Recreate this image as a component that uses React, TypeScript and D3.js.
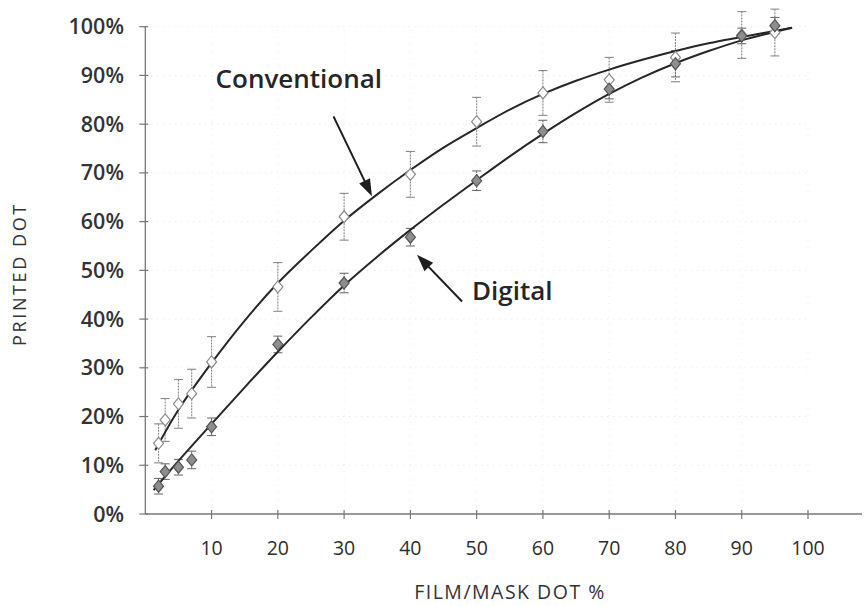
import React, { useMemo } from 'react';
import * as d3 from 'd3';

// film/mask dot % where samples were measured
const dotPercent = [2, 3, 5, 7, 10, 20, 30, 40, 50, 60, 70, 80, 90, 95];

// printed dot, conventional plates (open diamonds)
const conventionalValues = [14.5, 19.3, 22.6, 24.7, 31.2, 46.6, 61, 69.7, 80.5, 86.4, 89.1, 93.7, 98.3, 98.8];
const conventionalError = [4, 4.4, 5, 5, 5.2, 5, 4.8, 4.7, 5, 4.6, 4.6, 5, 4.8, 4.8];

// printed dot, digital plates (grey diamonds)
const digitalValues = [5.7, 8.7, 9.6, 11.1, 17.9, 34.8, 47.4, 56.8, 68.4, 78.5, 87.2, 92.4, 98.1, 100.2];
const digitalError = [1.6, 1.6, 1.6, 1.8, 1.8, 1.7, 2, 1.8, 2, 2.3, 2, 2.7, 1.6, 1.7];

// fitted curves
const conventionalFitX = [1.5, 5, 10, 15, 20, 25, 30, 35, 40, 45, 50, 55, 60, 65, 70, 75, 80, 85, 90, 97.6];
const conventionalFitY = [13.1, 21.4, 31, 39.7, 47.4, 54, 60.2, 65.6, 70.6, 75.2, 79.2, 83, 86.2, 88.9, 91.2, 93.2, 95, 96.6, 97.9, 99.8];
const digitalFitX = [1.25, 5, 10, 15, 20, 25, 30, 35, 40, 45, 50, 55, 60, 65, 70, 75, 80, 85, 90, 97.6];
const digitalFitY = [4.9, 10.9, 18.5, 26, 33.3, 40.3, 46.9, 52.8, 58.3, 63.5, 68.5, 73.4, 78, 82.3, 86.2, 89.6, 92.5, 95, 97.2, 99.8];

const xTicks = [10, 20, 30, 40, 50, 60, 70, 80, 90, 100];
const yTicks = [0, 10, 20, 30, 40, 50, 60, 70, 80, 90, 100];

const W = 867;
const H = 606;

const App: React.FC = () => {
  const x = useMemo(() => d3.scaleLinear().domain([0, 100]).range([145.3, 808]), []);
  const y = useMemo(() => d3.scaleLinear().domain([0, 100]).range([514, 26.7]), []);

  const line = d3.line<[number, number]>()
    .x(d => x(d[0]))
    .y(d => y(d[1]))
    .curve(d3.curveCatmullRom.alpha(0.5));

  const convPath = line(conventionalFitX.map((v, i) => [v, conventionalFitY[i]] as [number, number])) || '';
  const digPath = line(digitalFitX.map((v, i) => [v, digitalFitY[i]] as [number, number])) || '';

  const diamond = (cx: number, cy: number) =>
    `M${cx},${cy - 6}L${cx + 5},${cy}L${cx},${cy + 6}L${cx - 5},${cy}Z`;

  const errorBars = (vals: number[], errs: number[], key: string, color: string) =>
    dotPercent.map((d, i) => {
      const px = x(d);
      const top = y(vals[i] + errs[i]);
      const bot = y(vals[i] - errs[i]);
      return (
        <g key={key + i} stroke={color} strokeWidth={1.1}>
          <line x1={px} x2={px} y1={top} y2={bot} strokeDasharray="2,1" />
          <line x1={px - 4.5} x2={px + 4.5} y1={top} y2={top} />
          <line x1={px - 4.5} x2={px + 4.5} y1={bot} y2={bot} />
        </g>
      );
    });

  // arrow annotations in data units
  const convArrow = { from: [28.4, 81.6], to: [34.2, 65.2] };
  const digArrow = { from: [47.8, 43.6], to: [41, 53.2] };

  const arrow = (a: { from: number[]; to: number[] }, key: string) => {
    const x1 = x(a.from[0]);
    const y1 = y(a.from[1]);
    const x2 = x(a.to[0]);
    const y2 = y(a.to[1]);
    const ang = Math.atan2(y2 - y1, x2 - x1);
    const len = 17;
    const half = 6;
    const bx = x2 - len * Math.cos(ang);
    const by = y2 - len * Math.sin(ang);
    const head = `M${x2},${y2}L${bx + half * Math.sin(ang)},${by - half * Math.cos(ang)}L${bx - half * Math.sin(ang)},${by + half * Math.cos(ang)}Z`;
    return (
      <g key={key}>
        <line x1={x1} y1={y1} x2={bx + 3 * Math.cos(ang)} y2={by + 3 * Math.sin(ang)} stroke="#1e1e1e" strokeWidth={2} />
        <path d={head} fill="#1e1e1e" />
      </g>
    );
  };

  const font = "'Open Sans', 'Noto Sans', sans-serif";

  return (
    <svg width={W} height={H} style={{ position: 'absolute', left: 0, top: 0, background: '#fff' }}>
      <rect width={W} height={H} fill="#fff" />

      {/* faint grid from the scan */}
      {yTicks.filter(t => t > 0).map(t => (
        <line key={'gy' + t} x1={x(0)} x2={x(100)} y1={y(t)} y2={y(t)} stroke="#e4e4e4" strokeWidth={1} strokeDasharray="1,5" />
      ))}
      {xTicks.map(t => (
        <line key={'gx' + t} x1={x(t)} x2={x(t)} y1={y(0)} y2={y(100)} stroke="#ececec" strokeWidth={1} strokeDasharray="1,6" />
      ))}

      {/* axes */}
      <line x1={x(0)} x2={x(0)} y1={y(0)} y2={y(100)} stroke="#777" strokeWidth={1.3} />
      <line x1={x(0)} x2={862} y1={y(0)} y2={y(0)} stroke="#777" strokeWidth={1.3} />
      {yTicks.map(t => (
        <g key={'yt' + t}>
          <line x1={x(0) - 6} x2={x(0) + 3} y1={y(t)} y2={y(t)} stroke="#777" strokeWidth={1.2} />
          <text x={124} y={y(t)} dy="0.35em" textAnchor="end" fontFamily={font} fontWeight={600} fontSize={21.5} fill="#333">
            {t}%
          </text>
        </g>
      ))}
      {xTicks.map(t => (
        <g key={'xt' + t}>
          <line x1={x(t)} x2={x(t)} y1={y(0) - 4} y2={y(0) + 5} stroke="#777" strokeWidth={1.2} />
          <text x={x(t)} y={548} dy="0.35em" textAnchor="middle" fontFamily={font} fontSize={19.5} fill="#2e2e2e">
            {t}
          </text>
        </g>
      ))}

      <text x={510} y={592} dy="0.35em" textAnchor="middle" fontFamily={font} fontSize={19.5} letterSpacing={1.5} fill="#333">
        FILM/MASK DOT %
      </text>
      <text
        transform="translate(20,274) rotate(-90)"
        dy="0.35em"
        textAnchor="middle"
        fontFamily={font}
        fontSize={18}
        letterSpacing={2.6}
        fill="#333"
      >
        PRINTED DOT
      </text>

      {/* error bars */}
      {errorBars(conventionalValues, conventionalError, 'ce', '#8a8a8a')}
      {errorBars(digitalValues, digitalError, 'de', '#6f6f6f')}

      {/* fitted curves */}
      <path d={convPath} fill="none" stroke="#262626" strokeWidth={2} />
      <path d={digPath} fill="none" stroke="#262626" strokeWidth={2} />

      {/* markers */}
      {dotPercent.map((d, i) => (
        <path key={'cm' + i} d={diamond(x(d), y(conventionalValues[i]))} fill="#fff" stroke="#8a8a8a" strokeWidth={1.2} />
      ))}
      {dotPercent.map((d, i) => (
        <path key={'dm' + i} d={diamond(x(d), y(digitalValues[i]))} fill="#8e8e8e" stroke="#555" strokeWidth={1.2} />
      ))}

      {/* annotations */}
      {arrow(convArrow, 'ca')}
      {arrow(digArrow, 'da')}
      <text x={x(10.6)} y={y(87.5)} fontFamily={font} fontWeight={600} fontSize={26} fill="#262626">
        Conventional
      </text>
      <text x={x(49.3)} y={y(43.9)} fontFamily={font} fontWeight={600} fontSize={26} fill="#262626">
        Digital
      </text>
    </svg>
  );
};

export default App;
